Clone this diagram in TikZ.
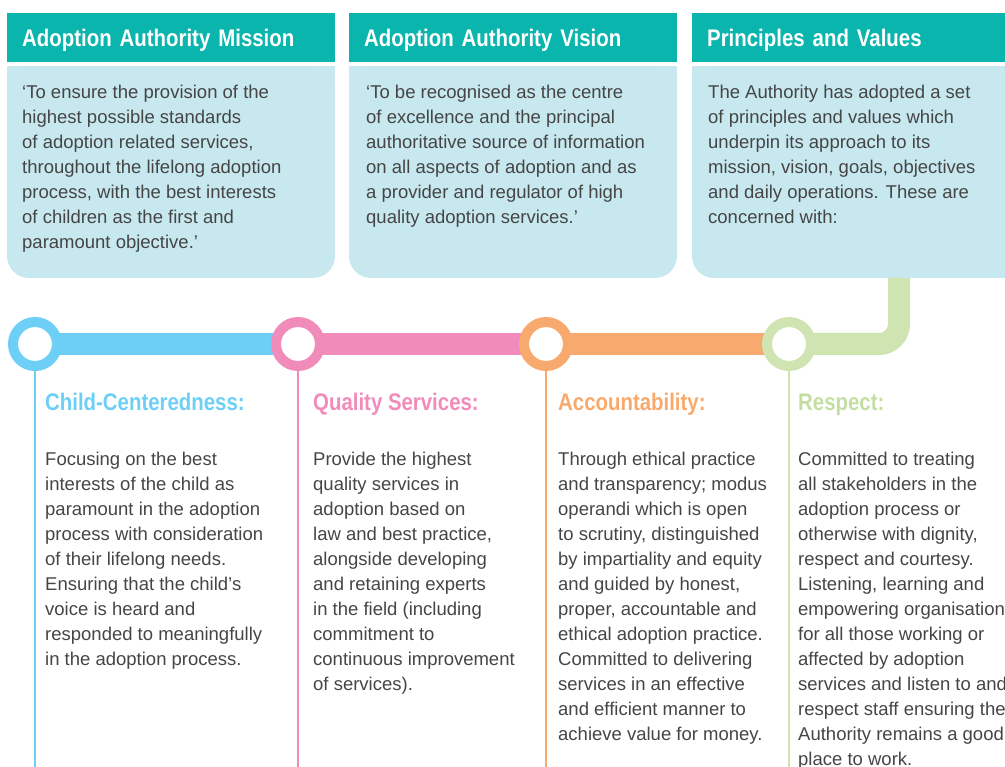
\documentclass[tikz,border=0pt]{standalone}
\usepackage{fontspec}
\setmainfont{Liberation Sans}
\newfontfamily\headfont{Liberation Sans}[FakeStretch=0.85]
\definecolor{teal}{HTML}{0AB5AD}
\definecolor{bodyblue}{HTML}{C8E8EF}
\definecolor{textgray}{HTML}{454545}
\definecolor{cblue}{HTML}{6DCFF6}
\definecolor{cpink}{HTML}{F18CBA}
\definecolor{corange}{HTML}{F8AA6E}
\definecolor{cgreen}{HTML}{D0E4B2}
\definecolor{cgreentext}{HTML}{C3DEA3}
\begin{document}
\begin{tikzpicture}[x=1pt,y=-1pt,
  header/.style={anchor=north west, fill=teal, text=white, inner xsep=15pt, inner ysep=0pt,
    minimum height=49pt, text height=17pt, text depth=0pt, align=left,
    font=\headfont\bfseries\fontsize{24}{28}\selectfont},
  bodytext/.style={anchor=north west, inner sep=0pt, align=left, text=textgray,
    font=\fontsize{18.5}{25}\selectfont},
  coltitle/.style={anchor=base west, inner sep=0pt, font=\headfont\bfseries\fontsize{24}{28}\selectfont},
  conn/.style={line width=22pt},
  ring/.style={circle, draw=#1, fill=white, line width=10pt, minimum size=44pt, inner sep=0pt},
  drop/.style={draw=#1, line width=2.5pt}
]
\useasboundingbox (0,0) rectangle (1005,767);
\clip (0,0) rectangle (1005,767);

% top boxes
\fill[bodyblue, rounded corners=22pt] (7,66) rectangle (335,278);
\fill[bodyblue] (7,66) rectangle (335,120);
\fill[bodyblue, rounded corners=22pt] (349,66) rectangle (677,278);
\fill[bodyblue] (349,66) rectangle (677,120);
\fill[bodyblue, rounded corners=22pt] (692,66) rectangle (1030,278);
\fill[bodyblue] (692,66) rectangle (1030,120);

\node[header, text width=298pt] (h1) at (7,13) {Adoption Authority Mission};
\node[header, text width=298pt] (h2) at (349,13) {Adoption Authority Vision};
\node[header, text width=308pt] (h3) at (692,13) {Principles and Values};

\node[bodytext] (m1) at (22,84) {\rule{0pt}{14pt}‘To ensure the provision of the\\
highest possible standards\\
of adoption related services,\\
throughout the lifelong adoption\\
process, with the best interests\\
of children as the first and\\
paramount objective.’};
\node[bodytext] (m2) at (366,84) {\rule{0pt}{14pt}‘To be recognised as the centre\\
of excellence and the principal\\
authoritative source of information\\
on all aspects of adoption and as\\
a provider and regulator of high\\
quality adoption services.’};
\node[bodytext] (m3) at (708,84) {\rule{0pt}{14pt}The Authority has adopted a set\\
of principles and values which\\
underpin its approach to its\\
mission, vision, goals, objectives\\
and daily operations. These are\\
concerned with:};

% timeline
\coordinate (p1) at (35,344);
\coordinate (p2) at (298,344);
\coordinate (p3) at (546,344);
\coordinate (p4) at (789,344);
\coordinate (g) at (899,278);
\coordinate (bend) at (899,344);
\draw[conn, cblue] (p1) -- (p2);
\draw[conn, cpink] (p2) -- (p3);
\draw[conn, corange] (p3) -- (p4);
\draw[conn, cgreen, rounded corners=20pt] (p4) -- (bend) -- (g);

\node[ring=cblue] (c1) at (p1) {};
\node[ring=cpink] (c2) at (p2) {};
\node[ring=corange] (c3) at (p3) {};
\node[ring=cgreen] (c4) at (p4) {};

\coordinate (e1) at (35,770);
\coordinate (e2) at (298,770);
\coordinate (e3) at (546,770);
\coordinate (e4) at (789,770);
\draw[drop=cblue] (c1.south) -- (e1);
\draw[drop=cpink] (c2.south) -- (e2);
\draw[drop=corange] (c3.south) -- (e3);
\draw[drop=cgreen] (c4.south) -- (e4);

% column titles
\node[coltitle, text=cblue] (t1) at (45,411) {Child-Centeredness:};
\node[coltitle, text=cpink] (t2) at (313,411) {Quality Services:};
\node[coltitle, text=corange] (t3) at (558,411) {Accountability:};
\node[coltitle, text=cgreentext] (t4) at (798,411) {Respect:};

% column texts
\node[bodytext] (col1) at (45,451) {\rule{0pt}{14pt}Focusing on the best\\
interests of the child as\\
paramount in the adoption\\
process with consideration\\
of their lifelong needs.\\
Ensuring that the child’s\\
voice is heard and\\
responded to meaningfully\\
in the adoption process.};
\node[bodytext] (col2) at (313,451) {\rule{0pt}{14pt}Provide the highest\\
quality services in\\
adoption based on\\
law and best practice,\\
alongside developing\\
and retaining experts\\
in the field (including\\
commitment to\\
continuous improvement\\
of services).};
\node[bodytext] (col3) at (558,451) {\rule{0pt}{14pt}Through ethical practice\\
and transparency; modus\\
operandi which is open\\
to scrutiny, distinguished\\
by impartiality and equity\\
and guided by honest,\\
proper, accountable and\\
ethical adoption practice.\\
Committed to delivering\\
services in an effective\\
and efficient manner to\\
achieve value for money.};
\node[bodytext] (col4) at (798,451) {\rule{0pt}{14pt}Committed to treating\\
all stakeholders in the\\
adoption process or\\
otherwise with dignity,\\
respect and courtesy.\\
Listening, learning and\\
empowering organisation\\
for all those working or\\
affected by adoption\\
services and listen to and\\
respect staff ensuring the\\
Authority remains a good\\
place to work.};
\end{tikzpicture}
\end{document}
